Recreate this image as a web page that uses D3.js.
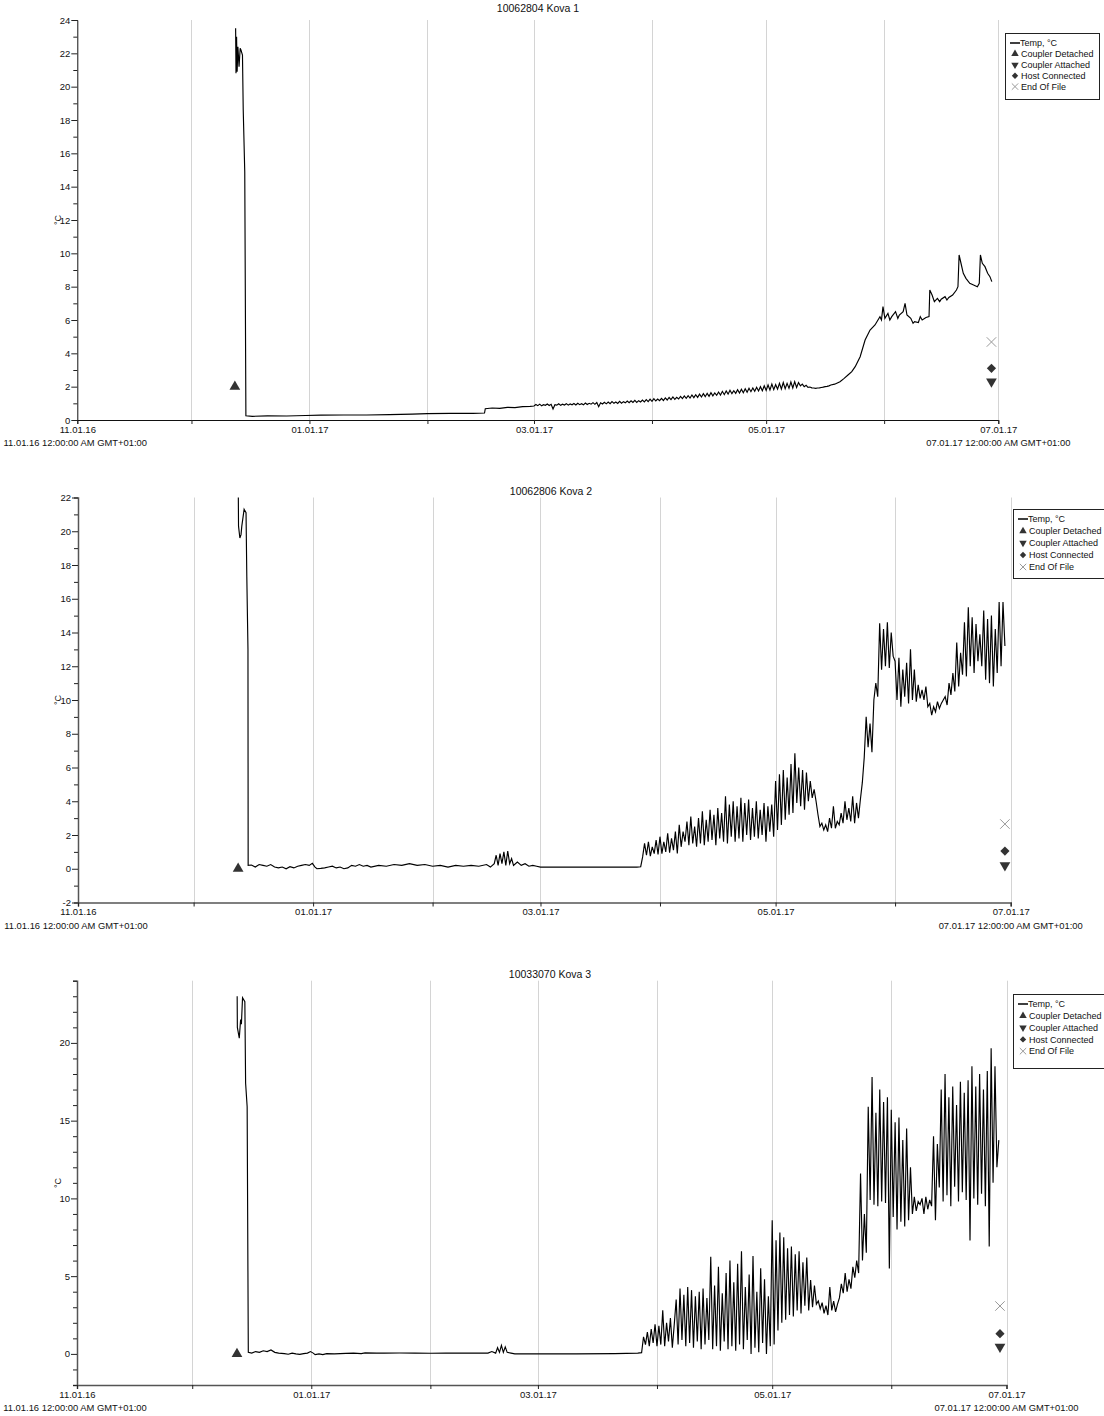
<!DOCTYPE html>
<html><head><meta charset="utf-8">
<script src="https://cdn.jsdelivr.net/npm/d3@7"></script>
<style>
body{margin:0;background:#fff}
text{font-family:"Liberation Sans",Arial,sans-serif;fill:#111}
</style>
</head><body>
<svg id="c" width="1104" height="1416"></svg>
<script>
// ---------- shared categories / labels ----------
const startDate = Date.UTC(2016,10,1);
const endDate = Date.UTC(2017,6,1);
const xTickLabels = ["11.01.16","","01.01.17","","03.01.17","","05.01.17","","07.01.17"];
const xEndLabels = ["11.01.16 12:00:00 AM GMT+01:00","07.01.17 12:00:00 AM GMT+01:00"];
const legendLabels = ["Temp, °C","Coupler Detached","Coupler Attached","Host Connected","End Of File"];
const eventTypes = ["detached","attached","host","eof"];
const titles = ["10062804 Kova 1","10062806 Kova 2","10033070 Kova 3"];
const yLabel = "°C";

// ---------- Kova 1 (days since 11.01.16) ----------
const k1Days = [41.6,41.7,41.85,42.0,42.2,42.5,42.8,43.0,43.4,43.6,44.0,44.3,46,50,55,60,64,70,76,82,88,92,98,104,107,107.2,109,111,113,115,117,119,
  198,199,200.4,201.5,202.5,203.5,204.4,205.7,207,208.3,209.6,210.9,211.3,211.7,212.2,213,213.5,214,215,215.6,216,217,217.5,218,219,219.6,220,221,221.5,222,223,223.8,224.0,224.6,225.2,226,226.6,227,228,228.5,229,230,231,231.4,231.7,232.3,232.8,233.5,234.5,235.5,236.5,237.0,237.3,237.8,238.5,239.2,239.8,240.3];
const k1Temp = [23.5,20.8,23.0,20.9,22.4,21.2,22.3,22.2,21.9,18.6,14.9,0.25,0.22,0.25,0.24,0.27,0.29,0.3,0.3,0.32,0.35,0.38,0.4,0.4,0.42,0.68,0.72,0.7,0.76,0.74,0.8,0.82,
  2.1,2.15,2.3,2.5,2.7,2.9,3.2,3.8,4.8,5.4,5.7,6.2,6.0,6.8,6.1,6.4,6.0,6.2,6.5,6.1,6.3,6.5,7.0,6.3,6.1,5.8,5.9,5.85,6.2,6.0,6.15,6.2,7.8,7.5,7.1,7.3,7.1,7.25,7.4,7.2,7.35,7.5,7.8,8.0,9.9,9.3,8.8,8.5,8.2,8.1,8.0,8.2,9.9,9.4,9.2,8.8,8.6,8.3];
const k1HalfDayStart = 120;  // readings every half day
const k1HalfDay = [
  0.84,0.93,0.86,0.95,0.85,0.92,0.88,0.96,0.87,0.94,
  0.66,0.92,0.89,0.97,0.88,0.95,0.9,0.98,0.89,0.96,
  0.91,0.99,0.9,1.0,0.92,0.98,0.91,1.02,0.93,1.0,
  0.95,1.04,0.94,1.05,0.8,1.03,0.96,1.06,0.97,1.08,
  0.98,1.1,1.0,1.08,0.99,1.12,1.01,1.1,1.03,1.14,
  1.04,1.15,1.05,1.18,1.06,1.16,1.08,1.2,1.09,1.22,
  1.1,1.25,1.12,1.28,1.14,1.26,1.16,1.3,1.17,1.33,
  1.2,1.35,1.22,1.38,1.24,1.36,1.26,1.42,1.28,1.44,
  1.3,1.46,1.32,1.5,1.34,1.52,1.36,1.55,1.38,1.58,
  1.4,1.6,1.42,1.64,1.45,1.62,1.48,1.68,1.5,1.72,
  1.52,1.74,1.55,1.78,1.58,1.76,1.6,1.82,1.62,1.85,
  1.64,1.88,1.66,1.9,1.7,1.92,1.72,1.96,1.74,2.0,
  1.75,2.05,1.78,2.1,1.8,2.15,1.82,2.12,1.85,2.2,
  1.86,2.25,1.88,2.2,1.9,2.28,1.92,2.3,1.95,2.25,
  2.05,2.15,2.0,2.08,1.96,1.98,1.93,1.92,1.9,1.92,
  1.93,1.95,1.97,2.0,2.02,2.05];
const k1EventDay = [41.4,240.2,240.2,240.2];
const k1EventTemp = [2.0,2.3,3.1,4.68];

// ---------- Kova 2 ----------
const k2Days = [41.6,41.65,42.0,42.3,42.5,43.1,43.6,43.8,44.1,44.15,45,46,47,48,49,50,51,52,53,54,55,56,57,58,59,60,60.8,61.5,62,63,64,65,66,67,68,69,70,71,72,73,74,75,76,78,80,82,84,86,88,90,92,94,96,98,100,102,104,106,107,108,108.5,109,109.5,110,110.5,111,111.5,112,112.5,113,114,115,116,117,118,119,120,125,130,135,140,145,146];
const k2Temp = [22.0,20.3,19.6,19.8,20.3,21.3,21.1,17.3,13.0,0.2,0.22,0.1,0.25,0.2,0.15,0.25,0.1,0.05,0.1,0.0,0.12,0.05,0.15,0.2,0.25,0.2,0.32,0.1,0.0,0.02,0.05,0.1,0.15,0.05,0.1,0.0,0.05,0.2,0.15,0.25,0.15,0.2,0.1,0.2,0.15,0.25,0.2,0.3,0.2,0.25,0.15,0.2,0.1,0.2,0.15,0.2,0.15,0.25,0.1,0.3,0.8,0.2,0.9,0.3,1.0,0.2,1.05,0.3,0.6,0.2,0.4,0.2,0.3,0.15,0.2,0.15,0.1,0.1,0.1,0.1,0.1,0.1,0.12];
const k2HalfDayStart = 146.5;
const k2HalfDay = [
  0.7,1.5,0.8,1.6,0.75,1.3,0.9,1.7,0.85,
  1.9,0.9,1.6,1.0,2.1,0.95,1.8,1.1,2.2,0.9,
  2.6,1.3,2.2,1.6,2.8,1.4,3.1,1.5,2.5,1.3,
  3.0,1.5,3.4,1.4,2.9,1.6,3.5,1.7,3.2,1.4,
  3.6,1.8,3.3,1.6,4.3,1.5,3.8,1.9,4.0,1.6,
  3.7,1.8,4.2,1.6,3.9,2.0,4.1,1.7,3.6,1.9,
  4.0,1.8,3.5,2.0,3.9,1.6,3.7,2.2,3.8,1.9,
  5.2,2.3,5.6,2.6,5.85,2.9,5.4,3.2,6.2,3.3,
  6.85,3.9,6.0,3.7,5.85,3.5,5.7,4.0,5.2,4.2,
  4.7,4.0,3.2,2.5,2.7,2.3,2.6,2.2,3.0,2.4,
  3.7,2.4,2.8,2.6,3.3,2.7,4.0,2.9,3.6,2.8,
  4.3,2.7,3.9,3.0,4.1,5.1,
  6.6,9.0,7.2,8.6,6.9,
  10.0,11.0,10.2,14.55,11.8,14.2,12.0,14.6,11.9,
  14.0,12.6,12.3,10.0,12.5,9.6,11.8,10.2,12.2,9.8,
  13.0,10.0,11.8,9.9,10.9,10.1,10.6,10.0,10.8,9.6,
  9.8,9.1,9.6,9.3,9.9,9.5,9.8,10.0,10.2,9.7,
  11.0,10.3,11.6,10.5,13.4,10.8,12.8,11.5,14.6,11.4,
  15.5,12.0,14.9,11.6,14.5,12.3,13.9,12.0,15.3,11.2,
  14.8,11.0,15.0,10.8,14.2,11.6,15.8,12.0,15.8,13.2];
const k2EventDay = [41.55,240.5,240.5,240.5];
const k2EventTemp = [0.0,0.2,1.05,2.65];

// ---------- Kova 3 ----------
const k3Days = [41.7,41.75,42.25,42.6,42.8,43.1,43.7,43.9,44.3,44.6,45.5,46.5,47.5,48.5,49.5,50.5,51.5,52.5,54,55,56,57,58,59,60,60.8,61.5,62,63,64,65,67,70,72,74,75,78,80,84,88,92,96,100,104,107,108,109,109.5,110,110.5,111,111.5,112,113,114,120,130,140,146,147];
const k3Temp = [23.0,21.0,20.3,21.5,21.2,22.9,22.65,17.4,15.9,0.1,0.05,0.15,0.1,0.2,0.15,0.25,0.1,0.05,0.02,-0.02,0.05,0.0,-0.03,0.02,0.05,0.15,0.05,-0.05,0.0,-0.05,0.02,0.0,0.03,0.05,0.02,0.07,0.05,0.05,0.06,0.05,0.04,0.05,0.05,0.06,0.05,0.15,0.05,0.4,0.1,0.55,0.1,0.45,0.1,0.05,0.0,0.0,0.0,0.02,0.05,0.08];
const k3HalfDayStart = 147.5;
const k3HalfDay = [
  1.1,0.6,1.4,0.5,1.6,0.7,1.9,0.5,
  1.8,0.6,2.8,0.5,2.0,0.8,2.3,0.4,1.9,
  3.5,0.6,4.2,0.9,3.8,0.5,4.3,0.7,4.1,0.4,
  3.7,0.8,4.0,0.3,4.2,0.6,3.6,0.9,6.25,0.3,
  4.4,0.5,5.6,0.2,3.9,0.8,5.2,0.3,6.0,0.5,
  4.6,0.2,5.8,0.6,6.6,0.3,4.3,0.9,5.1,0.0,
  6.3,0.4,4.0,0.1,5.5,0.7,4.8,0.0,3.7,0.5,
  8.6,0.6,7.3,1.5,7.8,2.0,7.5,2.2,6.8,2.5,
  6.9,2.4,6.4,2.8,6.6,2.6,5.9,3.1,6.2,2.8,
  4.75,3.0,4.4,3.2,3.4,2.9,3.3,2.6,3.1,2.5,
  4.3,2.8,3.4,2.7,3.2,3.6,4.5,3.9,5.2,4.0,
  4.8,4.2,5.6,4.9,6.0,5.2,11.6,6.0,9.0,6.5,
  15.9,9.9,17.8,9.6,15.5,9.5,17.0,9.8,16.2,9.7,
  16.5,5.5,15.7,8.8,14.9,8.0,15.2,8.5,13.75,8.2,
  14.5,8.6,12.0,9.0,10.1,9.2,9.8,9.6,10.0,9.0,
  10.1,9.3,9.9,9.5,14.0,8.6,13.5,10.7,17.0,9.8,
  18.0,10.2,16.5,9.5,17.2,10.75,16.0,9.8,17.5,10.4,
  16.8,9.9,17.6,7.3,18.5,10.0,17.2,9.6,18.0,10.3,
  17.0,9.5,18.2,6.9,19.65,11.0,18.5,12.0,13.75];
const k3EventDay = [41.65,240.3,240.3,240.3];
const k3EventTemp = [0.0,0.45,1.3,3.08];

// ---------- y tick settings ----------
const yDomains = [[0,24],[-2,22],[-2,24]];
const yLabelSteps = [2,2,5];

// ---------- layout ----------
const layouts = [
  {left:77.3,right:998.3,top:20,bottom:420,title:[538,12],ylab:[61,220],legend:[1005,33,94,66],lstep:10.9},
  {left:78,right:1010.7,top:497.5,bottom:902.5,title:[551,495],ylab:[61,700],legend:[1013,509,100,69],lstep:12},
  {left:77,right:1006.5,top:980.7,bottom:1385,title:[550,978],ylab:[61,1183],legend:[1013,994,100,74],lstep:11.8}
];

function toDate(d){ return new Date(startDate + d*86400000); }
function buildSeries(days,temps,hStart,half){
  const pts = days.map((d,i)=>({t:d,v:temps[i]}));
  half.forEach((v,i)=>pts.push({t:hStart+i*0.5,v:v}));
  pts.sort((a,b)=>a.t-b.t);
  return pts;
}
const series = [
  buildSeries(k1Days,k1Temp,k1HalfDayStart,k1HalfDay),
  buildSeries(k2Days,k2Temp,k2HalfDayStart,k2HalfDay),
  buildSeries(k3Days,k3Temp,k3HalfDayStart,k3HalfDay)
];
const events = [
  [k1EventDay,k1EventTemp],[k2EventDay,k2EventTemp],[k3EventDay,k3EventTemp]
];

const svg = d3.select("#c");
const symFor = {
  detached:{type:d3.symbolTriangle,rot:0},
  attached:{type:d3.symbolTriangle,rot:180},
  host:{type:d3.symbolSquare,rot:45},
  eof:{type:d3.symbolTimes,rot:0}
};
function drawSymbol(g,type,x,y,size){
  const s = symFor[type];
  const p = g.append("path")
    .attr("d",d3.symbol().type(s.type).size(type==="host"?size*0.85:size)())
    .attr("transform",`translate(${x},${y}) rotate(${s.rot})`);
  if(type==="eof") p.attr("fill","none").attr("stroke","#999").attr("stroke-width",1);
  else p.attr("fill","#333");
}

layouts.forEach((L,ci)=>{
  const g = svg.append("g");
  const x = d3.scaleUtc().domain([new Date(startDate),new Date(endDate)]).range([L.left,L.right]);
  const y = d3.scaleLinear().domain(yDomains[ci]).range([L.bottom,L.top]);
  const months = d3.utcMonth.range(new Date(startDate),new Date(endDate+1));

  // gridlines
  g.selectAll(".grid").data(months.slice(1)).enter().append("line")
    .attr("x1",d=>Math.round(x(d))+0.5).attr("x2",d=>Math.round(x(d))+0.5)
    .attr("y1",L.top).attr("y2",L.bottom)
    .attr("stroke","#d4d4d4").attr("stroke-width",1);

  // title
  g.append("text").attr("x",L.title[0]).attr("y",L.title[1]).attr("text-anchor","middle")
    .attr("font-size",10.5).text(titles[ci]);
  // y label
  g.append("text").attr("transform",`translate(${L.ylab[0]},${L.ylab[1]}) rotate(-90)`)
    .attr("text-anchor","middle").attr("font-size",9).text(yLabel);

  // y axis
  const [y0,y1] = yDomains[ci];
  const minor = d3.range(y0,y1+0.001,1);
  const yAx = d3.axisLeft(y).tickValues(minor).tickSize(4)
    .tickFormat(v=> (v%yLabelSteps[ci]===0 && !(ci===2 && (v<0||v>20))) ? String(v) : "");
  const ya = g.append("g").attr("transform",`translate(${L.left},0)`).call(yAx);
  ya.select(".domain").attr("stroke", ci===0?"#111":"#555").attr("stroke-width",ci===0?1:1.5);
  ya.selectAll(".tick line").attr("stroke","#222")
    .attr("x2",v=> (v%yLabelSteps[ci]===0)?-6:-4);
  ya.selectAll(".tick text").attr("font-size",9.5).attr("x",-7).attr("fill","#111")
    .style("font-family","'Liberation Sans',Arial,sans-serif");

  // x axis
  const xAx = d3.axisBottom(x).tickValues(months).tickSize(4)
    .tickFormat((d,i)=>xTickLabels[i]);
  const xa = g.append("g").attr("transform",`translate(0,${L.bottom})`).call(xAx);
  xa.select(".domain").attr("stroke", ci===0?"#111":"#555").attr("stroke-width",ci===0?1:1.5);
  xa.selectAll(".tick line").attr("stroke","#222");
  xa.selectAll(".tick text").attr("font-size",9.5).attr("y",6).attr("fill","#111")
    .style("font-family","'Liberation Sans',Arial,sans-serif");
  // full-date labels at ends
  [new Date(startDate),new Date(endDate)].forEach((d,i)=>{
    g.append("text").attr("x",x(d)-(i===0?2:0)).attr("y",L.bottom+26).attr("text-anchor","middle")
      .attr("font-size",9.4).text(xEndLabels[i]);
  });

  // series line
  const line = d3.line().x(d=>x(toDate(d.t))).y(d=>y(d.v));
  g.append("path").datum(series[ci]).attr("d",line)
    .attr("fill","none").attr("stroke","#000").attr("stroke-width",1.15)
    .attr("stroke-linejoin","miter");

  // event markers
  const [ed,et] = events[ci];
  ed.forEach((d,i)=>drawSymbol(g,eventTypes[i],x(toDate(d)),y(et[i]),eventTypes[i]==="eof"?60:50));

  // legend
  const [lx,ly,lw,lh] = L.legend;
  g.append("rect").attr("x",lx+0.5).attr("y",ly+0.5).attr("width",lw).attr("height",lh)
    .attr("fill","#fff").attr("stroke","#222").attr("stroke-width",1);
  legendLabels.forEach((lab,i)=>{
    const cy = ly+10+i*L.lstep;
    if(i===0){
      g.append("line").attr("x1",lx+5).attr("x2",lx+15).attr("y1",cy).attr("y2",cy)
        .attr("stroke","#000").attr("stroke-width",1.5);
    } else {
      drawSymbol(g,eventTypes[i-1],lx+10,cy,eventTypes[i-1]==="eof"?28:24);
    }
    g.append("text").attr("x",lx+(i===0?15:16)).attr("y",cy+3.2).attr("font-size",9).text(lab);
  });
});
</script>
</body></html>
